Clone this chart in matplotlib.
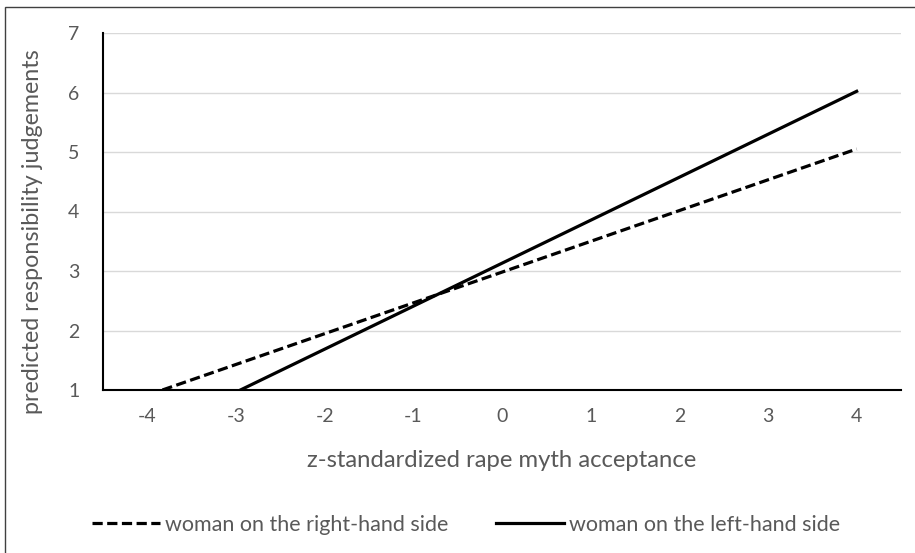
import matplotlib.pyplot as plt
from matplotlib.patches import Rectangle

# endpoints of the two predicted lines (x = z-standardized RMA)
right_x = [-3.83, 4]
right_y = [1, 5.05]
left_x = [-2.95, 4]
left_y = [1, 6.02]

x_ticks = [-4, -3, -2, -1, 0, 1, 2, 3, 4]
y_ticks = [1, 2, 3, 4, 5, 6, 7]

xlabel = 'z-standardized rape myth acceptance'
ylabel = 'predicted responsibility judgements'
right_name = 'woman on the right-hand side'
left_name = 'woman on the left-hand side'

W, H = 915, 553
grey = '#595959'
plt.rcParams['font.family'] = ['Lato', 'DejaVu Sans']
plt.rcParams['axes.unicode_minus'] = False

fig = plt.figure(figsize=(W / 100, H / 100), dpi=100)
ax = fig.add_axes([103 / W, 1 - 390 / H, 798 / W, 357 / H])
renderer = fig.canvas.get_renderer()


# pick a font size so the text is as wide as in the reference (Calibri there)
def fit_size(s, target_px, base=14.0):
    t = fig.text(0, 0, s, fontsize=base)
    w = t.get_window_extent(renderer=renderer).width
    t.remove()
    return base * target_px / w


for y in y_ticks[1:]:
    ax.axhline(y, color='#d9d9d9', lw=1.0, zorder=0)

ax.plot(right_x, right_y, color='black', lw=2.3, ls=(0, (3.2, 1.4)),
        label=right_name)
ax.plot(left_x, left_y, color='black', lw=2.3, ls='-', label=left_name)

ax.set_xlim(-4.5, 4.5)
ax.set_ylim(1, 7)
ax.set_xticks(x_ticks)
ax.set_yticks(y_ticks)
ax.tick_params(length=0, labelsize=14, colors=grey)
ax.tick_params(axis='x', pad=13)
ax.tick_params(axis='y', pad=17)

for s in ['top', 'right']:
    ax.spines[s].set_visible(False)
ax.spines['left'].set_linewidth(1.5)
ax.spines['bottom'].set_linewidth(1.5)

fig.text(502 / W, 1 - 467 / H, xlabel, ha='center', va='baseline',
         fontsize=fit_size(xlabel, 392), color=grey)
fig.text(33 / W, 1 - 232 / H, ylabel, ha='center', va='center', rotation=90,
         fontsize=fit_size(ylabel, 365), color=grey)

leg_fs = fit_size(right_name, 285)
em = leg_fs * 100 / 72
leg = fig.legend(loc='center left', bbox_to_anchor=(92 / W, 1 - 525 / H), ncol=2,
                 frameon=False, fontsize=leg_fs, borderpad=0, borderaxespad=0,
                 handlelength=68 / em, handletextpad=5 / em, columnspacing=48 / em)
for t in leg.get_texts():
    t.set_color(grey)

fig.patches.append(Rectangle((5 / W, -0.05), 1.2, 1 - 7 / H + 0.05,
                             transform=fig.transFigure, fill=False,
                             edgecolor='#404040', lw=1.0))

fig.savefig('out.png', dpi=100)
